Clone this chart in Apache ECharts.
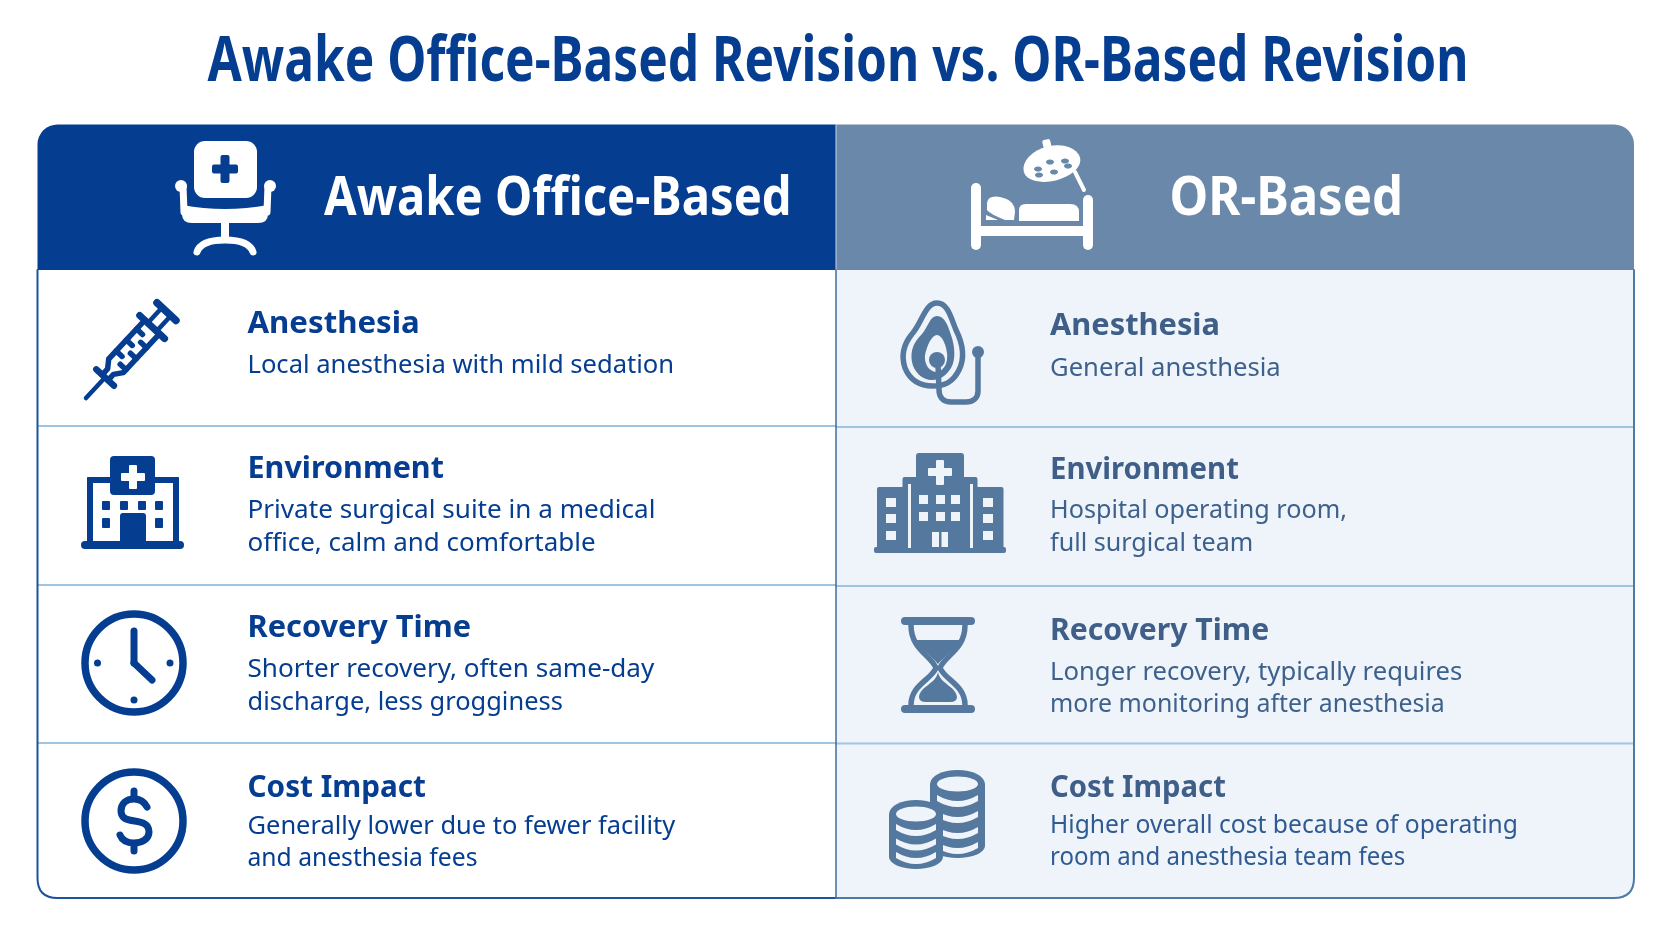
<!DOCTYPE html>
<html>
<head>
<meta charset="utf-8">
<title>Awake Office-Based Revision vs. OR-Based Revision</title>
<script src="https://cdn.jsdelivr.net/npm/echarts@6/dist/echarts.min.js"></script>
<style>
  html, body { margin: 0; padding: 0; background: #fff; }
  #chart { width: 1672px; height: 941px; }
</style>
</head>
<body>
<div id="chart"></div>
<script>
// text of the comparison table
const chartTitle = 'Awake Office-Based Revision vs. OR-Based Revision';
const columnNames = ['Awake Office-Based', 'OR-Based'];
const rowNames = ['Anesthesia', 'Environment', 'Recovery Time', 'Cost Impact'];
const officeLines = [
  ['Local anesthesia with mild sedation'],
  ['Private surgical suite in a medical', 'office, calm and comfortable'],
  ['Shorter recovery, often same-day', 'discharge, less grogginess'],
  ['Generally lower due to fewer facility', 'and anesthesia fees']
];
const orLines = [
  ['General anesthesia'],
  ['Hospital operating room,', 'full surgical team'],
  ['Longer recovery, typically requires', 'more monitoring after anesthesia'],
  ['Higher overall cost because of operating', 'room and anesthesia team fees']
];

// colours
const navy = '#053d91';
const slate = '#6a88a9';
const slateIcon = '#55789f';
const slateHead = '#3f5f88';
const slateBody = '#3d618c';
const costBody = '#2f5a93';
const paleBg = '#eef4fa';
const rule = '#9fc5e1';

// layout
const FONT = '"Noto Sans", sans-serif';
const card = { l: 37.5, r: 1634, t: 124.5, b: 898, mid: 836, head: 270, radius: 20 };
const officeRuleY = [426, 585, 743];
const orRuleY = [427, 586, 743.5];
const officeX = 247.5;
const orX = 1050;
const officeHeadBase = [332.7, 478, 637, 797];
const orHeadBase = [335, 479, 640, 797];
const officeBodyBase = [[372.7], [518, 551], [677, 710], [834, 866]];
const orBodyBase = [[376], [518, 551], [680, 712], [833, 865]];
// horizontal fit of each text against the reference lettering
const officeHeadFit = [1.04, 1.017, 1.025, 0.99];
const orHeadFit = [1.026, 0.978, 1.005, 0.976];
const officeBodyFit = [[1.023], [1.044, 1.038], [1.044, 1.017], [1.018, 0.986]];
const orBodyFit = [[1.024], [1.007, 1.005], [1.027, 0.995], [0.986, 0.96]];

const MIDDLE_SHIFT = 0.285; // distance from the 'middle' anchor to the baseline, in em

function label(text, x, base, size, weight, fill, align, scaleX) {
  return {
    type: 'text',
    x: x,
    y: base - size * MIDDLE_SHIFT,
    scaleX: scaleX || 1,
    style: {
      text: text, fill: fill, fontFamily: FONT, fontSize: size, fontWeight: weight,
      align: align || 'left', verticalAlign: 'middle'
    }
  };
}
function box(x, y, w, h, r, fill) {
  return { type: 'rect', shape: { x: x, y: y, width: w, height: h, r: r || 0 }, style: { fill: fill } };
}
function line(x1, y1, x2, y2, color, width) {
  return {
    type: 'line', shape: { x1: x1, y1: y1, x2: x2, y2: y2 },
    style: { stroke: color, lineWidth: width, lineCap: 'round' }
  };
}
function dot(x, y, r, fill) {
  return { type: 'circle', shape: { cx: x, cy: y, r: r }, style: { fill: fill } };
}
function ring(x, y, r, color, width) {
  return { type: 'circle', shape: { cx: x, cy: y, r: r }, style: { fill: 'none', stroke: color, lineWidth: width } };
}
function curve(d, color, width) {
  return { type: 'path', shape: { pathData: d }, style: { fill: 'none', stroke: color, lineWidth: width, lineCap: 'round', lineJoin: 'round' } };
}
function solid(d, fill) {
  return { type: 'path', shape: { pathData: d }, style: { fill: fill } };
}
function oval(cx, cy, rx, ry, fill) {
  return { type: 'ellipse', shape: { cx: cx, cy: cy, rx: rx, ry: ry }, style: { fill: fill } };
}

// header icons
function chairIcon() {
  const w = '#ffffff';
  return [
    box(194, 141, 63, 57, 11, w),
    box(220.5, 155, 9, 28, 2, navy),
    box(212, 164.5, 26, 9, 2, navy),
    dot(181, 186, 6, w), dot(270, 186, 6, w),
    line(183, 186, 184, 212, w, 7), line(268, 186, 267, 212, w, 7),
    solid('M182 205 Q225 213 268 205 L268 214 Q268 223 258 223 L192 223 Q182 223 182 214 Z', w),
    box(221, 222, 8, 20, 0, w),
    curve('M197 252 Q201 240 225 240 Q249 240 253 252', w, 7)
  ];
}
function bedIcon() {
  const w = '#ffffff';
  return [
    box(971, 183, 10, 67, 5, w),
    box(1083, 195, 10, 55, 5, w),
    box(978, 226, 108, 10, 0, w),
    solid('M1019 210 Q1019 204 1026 204 L1070 204 Q1079 204 1079 212 L1079 221 L1019 221 Z', w),
    solid('M987 203 Q988 195 1000 197 Q1015 200 1015 212 L1014 220 L1005 220 Q990 214 987 210 Z', w),
    solid('M986 215 L998 220 L986 220 Z', w),
    // surgical lamp
    { type: 'group', x: 1051, y: 161, rotation: 0.24, children: [
      box(-4, -22, 8, 9, 2, w),
      solid('M-29 4 A29 19 0 0 1 29 4 A29 16 0 0 1 -29 4 Z', w)
    ] },
    oval(1038, 169, 4, 2.6, slate), oval(1050, 162, 4, 2.6, slate), oval(1065, 161, 4, 2.6, slate),
    oval(1039, 175, 4, 2.6, slate), oval(1054, 172, 4, 2.6, slate), oval(1068, 166, 4, 2.6, slate),
    line(1075, 172, 1084, 190, w, 4)
  ];
}
// row icons, office column
function syringeIcon() {
  const c = navy;
  const g = { type: 'group', x: 86, y: 398, rotation: 47 * Math.PI / 180, children: [
    line(0, 0, 28, 0, c, 4.5),
    line(28, -12, 28, 12, c, 6.5),
    curve('M97 -10 L44 -10 L36 -4 L28 -4', c, 5.5),
    curve('M97 10 L44 10 L36 4 L28 4', c, 5.5),
    line(97, -17, 97, 17, c, 7),
    line(55, -10, 55, -2, c, 5.5), line(70, -10, 70, -2, c, 5.5), line(85, -10, 85, -2, c, 5.5),
    line(48, 10, 48, 2, c, 5.5), line(63, 10, 63, 2, c, 5.5), line(78, 10, 78, 2, c, 5.5),
    line(97, -6, 117, -6, c, 4.5), line(97, 6, 117, 6, c, 4.5),
    line(118, -13, 118, 13, c, 7.5)
  ] };
  return [g];
}
function clinicIcon() {
  const c = navy, w = '#ffffff';
  const kids = [
    box(89.5, 479, 87, 64, 0, w),
    box(87, 477, 6, 66, 1, c), box(173, 477, 6, 66, 1, c),
    box(87, 477, 92, 6, 2, c),
    box(81, 541, 103, 8, 4, c),
    box(110, 456, 45, 39, 4, c),
    box(129, 465, 8, 24, 1, w), box(121, 473, 24, 8, 1, w),
    box(120, 513, 26, 32, 3, c)
  ];
  [102, 120, 138, 155].forEach(function (x) { kids.push(box(x, 501, 8, 9, 1, c)); });
  [102, 155].forEach(function (x) { kids.push(box(x, 518, 8, 10, 1, c)); });
  return kids;
}
function clockIcon() {
  const c = navy;
  return [
    ring(134, 663, 49, c, 7.5),
    line(134, 631, 134, 663, c, 7),
    line(134, 663, 152, 680, c, 7),
    dot(97.5, 663, 3.5, c), dot(170, 663, 3.5, c), dot(134, 700, 3.5, c)
  ];
}
function dollarIcon() {
  const c = navy;
  return [
    ring(134, 821, 49, c, 7.5),
    curve('M147 807 C144 801 139 799 134 799 C126 799 121 804 121 811 C121 827 149 815 149 832 C149 839 142 843 134 843 C127 843 122 840 120 835', c, 7),
    line(134, 791, 134, 798, c, 7),
    line(134, 844, 134, 851, c, 7)
  ];
}
// row icons, OR column
function maskIcon() {
  const c = slateIcon;
  return [
    curve('M937 303 C948 303 951 318 956 330 C963 344 965 358 959 370 C953 382 945 386 933 386 C920 386 910 380 905 368 C901 356 903 345 912 334 C922 323 925 303 937 303 Z', c, 5.5),
    solid('M937 316 C945 316 948 326 951 335 C955 346 956 360 951 368 C946 376 940 380 932 380 C922 380 914 372 912 362 C910 350 914 342 922 334 C928 327 930 316 937 316 Z', c),
    solid('M937 335 C942 335 946 345 947 353 C948 362 945 370 937 372 C929 372 924 364 925 355 C927 345 932 335 937 335 Z', paleBg),
    dot(937, 360, 8, c),
    curve('M938 365 L939 390 C939 398 944 402 951 402 L966 402 C973 402 978 398 978 391 L978 352', c, 5.5),
    dot(978, 352, 6, c)
  ];
}
function hospitalIcon() {
  const c = slateIcon, w = paleBg;
  const kids = [
    box(916, 453, 48, 30, 3, c),
    box(902.5, 477, 75, 72, 2, c),
    box(877, 487, 126.5, 62, 2, c),
    box(874, 547, 132, 6, 2, c),
    box(936, 460, 8, 25, 1, w), box(928, 468, 24, 8, 1, w),
    box(908, 484, 3, 64, 0, w), box(970, 484, 3, 64, 0, w),
    box(932, 532, 16, 15, 0, w), box(939, 532, 2.5, 15, 0, c)
  ];
  [886, 983].forEach(function (x) {
    [498, 514, 531].forEach(function (y) { kids.push(box(x, y, 10, 9, 0, w)); });
  });
  [919, 936, 951].forEach(function (x) {
    [495, 512].forEach(function (y) { kids.push(box(x, y, 9, 9, 0, w)); });
  });
  return kids;
}
function hourglassIcon() {
  const c = slateIcon;
  return [
    box(901, 617, 74, 8, 4, c),
    box(901, 705, 74, 8, 4, c),
    curve('M911 625 C911 650 931 655 936 668 C931 680 911 685 911 705', c, 5.5),
    curve('M965 625 C965 650 945 655 940 668 C945 680 965 685 965 705', c, 5.5),
    solid('M916 640 L960 640 C958 648 946 654 938 664 C930 654 919 648 916 640 Z', c),
    solid('M938 672 C940 684 956 686 957 697 Q957 702 950 702 L926 702 Q919 702 919 697 C920 686 936 684 938 672 Z', c)
  ];
}
function coinStack(cx, top, bottom, rx, holeY, bandYs) {
  const c = slateIcon, bg = paleBg;
  const kids = [
    solid('M' + (cx - rx) + ' ' + (holeY) + ' A' + rx + ' 14 0 0 1 ' + (cx + rx) + ' ' + holeY +
      ' L' + (cx + rx) + ' ' + (bottom - 12) + ' A' + rx + ' 12 0 0 1 ' + (cx - rx) + ' ' + (bottom - 12) + ' Z', c),
    oval(cx, holeY, rx - 7, 7.5, bg)
  ];
  bandYs.forEach(function (y) {
    kids.push(solid('M' + (cx - rx + 7) + ' ' + y + ' Q' + cx + ' ' + (y + 12) + ' ' + (cx + rx - 7) + ' ' + y +
      ' L' + (cx + rx - 7) + ' ' + (y + 6) + ' Q' + cx + ' ' + (y + 18) + ' ' + (cx - rx + 7) + ' ' + (y + 6) + ' Z', bg));
  });
  return kids;
}
function coinsIcon() {
  return coinStack(957.5, 770, 858, 27.5, 784, [795, 811, 827, 842])
    .concat(coinStack(916, 800, 869, 27, 814, [824, 838.5, 852]));
}

const rowIcons = [
  [syringeIcon, clinicIcon, clockIcon, dollarIcon],
  [maskIcon, hospitalIcon, hourglassIcon, coinsIcon]
];

// assemble the table as elements of one custom series
const elements = [];
const r = card.radius;
const cardW = card.r - card.l;
elements.push(box(card.l, card.t, cardW, card.b - card.t, r, '#ffffff'));
elements.push(box(card.mid, card.head, card.r - card.mid, card.b - card.head, [0, 0, r, 0], paleBg));
elements.push(box(card.l, card.t, card.mid - card.l, card.head - card.t, [r, 0, 0, 0], navy));
elements.push(box(card.mid, card.t, card.r - card.mid, card.head - card.t, [0, r, 0, 0], slate));
elements.push(line(card.mid, card.t, card.mid, card.head, '#c9d6e6', 1));

officeRuleY.forEach(function (y) { elements.push(line(card.l + 1, y, card.mid, y, rule, 2.2)); });
orRuleY.forEach(function (y) { elements.push(line(card.mid, y, card.r - 1, y, rule, 2.2)); });

// outer frame and centre divider
elements.push(curve('M' + card.l + ' ' + card.head + ' L' + card.l + ' ' + (card.b - r) + ' Q' + card.l + ' ' + card.b + ' ' + (card.l + r) + ' ' + card.b + ' L' + card.mid + ' ' + card.b, '#1d52a0', 2));
elements.push(curve('M' + card.r + ' ' + card.head + ' L' + card.r + ' ' + (card.b - r) + ' Q' + card.r + ' ' + card.b + ' ' + (card.r - r) + ' ' + card.b + ' L' + card.mid + ' ' + card.b, '#4f7aa6', 2));
elements.push(line(card.mid, card.head, card.mid, card.b, '#3f6c9e', 1.5));

elements.push(label(chartTitle, 838, 81, 62, 700, navy, 'center', 0.8));
elements.push(label(columnNames[0], 324, 215, 53, 700, '#ffffff', 'left', 0.89));
elements.push(label(columnNames[1], 1169.5, 215, 53, 700, '#ffffff', 'left', 0.925));

rowNames.forEach(function (name, i) {
  elements.push(label(name, officeX, officeHeadBase[i], 30, 700, navy, 'left', officeHeadFit[i]));
  elements.push(label(name, orX, orHeadBase[i], 30, 700, slateHead, 'left', orHeadFit[i]));
  officeLines[i].forEach(function (t, j) {
    elements.push(label(t, officeX, officeBodyBase[i][j], 25, 400, navy, 'left', officeBodyFit[i][j]));
  });
  orLines[i].forEach(function (t, j) {
    elements.push(label(t, orX, orBodyBase[i][j], 25, 400, i === 3 ? costBody : slateBody, 'left', orBodyFit[i][j]));
  });
});

[chairIcon, bedIcon].forEach(function (icon) {
  elements.push({ type: 'group', children: icon() });
});
rowIcons.forEach(function (col) {
  col.forEach(function (icon) {
    elements.push({ type: 'group', children: icon() });
  });
});

const chart = echarts.init(document.getElementById('chart'));
chart.setOption({
  backgroundColor: '#ffffff',
  animation: false,
  series: [{
    type: 'custom',
    coordinateSystem: 'none',
    silent: true,
    data: [[0]],
    renderItem: function () {
      return { type: 'group', children: elements };
    }
  }]
});
</script>
</body>
</html>
